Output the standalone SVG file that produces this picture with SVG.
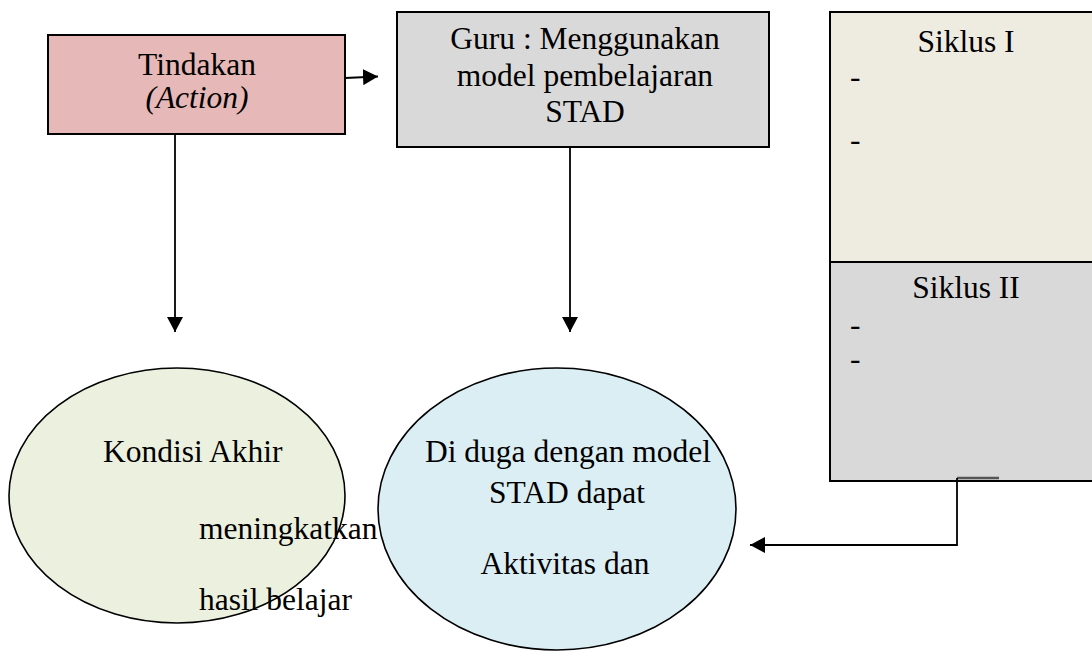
<svg xmlns="http://www.w3.org/2000/svg" width="1092" height="652" viewBox="0 0 1092 652">
<style>
.t{font-family:"Liberation Serif","Times New Roman",serif;font-size:31.5px;fill:#000}
.c{text-anchor:middle}
.box{stroke:#000;stroke-width:2}
.ln{stroke:#000;stroke-width:1.8;fill:none}
.eo{fill:none;stroke:#000;stroke-width:1.6}
</style>
<defs>
<marker id="ah" markerUnits="userSpaceOnUse" markerWidth="16" markerHeight="16" refX="15" refY="8" orient="auto">
<path d="M0,0 L15,8 L0,16 z" fill="#000"/>
</marker>
</defs>
<rect width="1092" height="652" fill="#fff"/>
<g id="tindakan">
<rect class="box" x="48" y="35" width="297" height="99" fill="#e6b8b7"/>
<text class="t c" x="197" y="75">Tindakan</text>
<text class="t c" x="197" y="108" font-style="italic">(Action)</text>
</g>
<g id="guru">
<rect class="box" x="397" y="12" width="372" height="135" fill="#d9d9d9"/>
<text class="t c" x="585" y="49">Guru : Menggunakan</text>
<text class="t c" x="585" y="86">model pembelajaran</text>
<text class="t c" x="585" y="122">STAD</text>
</g>
<g id="siklus1">
<rect class="box" x="830" y="12" width="280" height="250" fill="#eeece1"/>
<text class="t c" x="966" y="52">Siklus I</text>
<text class="t" x="850" y="87">-</text>
<text class="t" x="850" y="150">-</text>
</g>
<g id="siklus2">
<rect class="box" x="830" y="262" width="280" height="219" fill="#d9d9d9"/>
<text class="t c" x="966" y="298">Siklus II</text>
<text class="t" x="850" y="335">-</text>
<text class="t" x="850" y="369">-</text>
</g>
<g id="kondisi">
<ellipse cx="177" cy="495.5" rx="168" ry="127.5" fill="#ebf1de"/>
<text class="t" x="103" y="462">Kondisi Akhir</text>
<text class="t" x="199" y="539">meningkatkan</text>
<text class="t" x="199" y="610">hasil belajar</text>
<ellipse class="eo" cx="177" cy="495.5" rx="168" ry="127.5"/>
</g>
<g id="duga">
<ellipse cx="557" cy="509" rx="179" ry="141" fill="#dbeef4"/>
<text class="t c" x="568" y="462">Di duga dengan model</text>
<text class="t c" x="567" y="503">STAD dapat</text>
<text class="t c" x="565" y="574">Aktivitas dan</text>
<ellipse class="eo" cx="557" cy="509" rx="179" ry="141"/>
</g>
<g id="connectors">
<line class="ln" x1="345" y1="78" x2="378" y2="76.5" marker-end="url(#ah)"/>
<line class="ln" x1="175" y1="134" x2="175" y2="332" marker-end="url(#ah)"/>
<line class="ln" x1="570" y1="147" x2="570" y2="332" marker-end="url(#ah)"/>
<line x1="957" y1="478" x2="999" y2="478" stroke="#555" stroke-width="2.5"/>
<polyline class="ln" points="957,478 957,545 750,545" marker-end="url(#ah)"/>
</g>
</svg>
